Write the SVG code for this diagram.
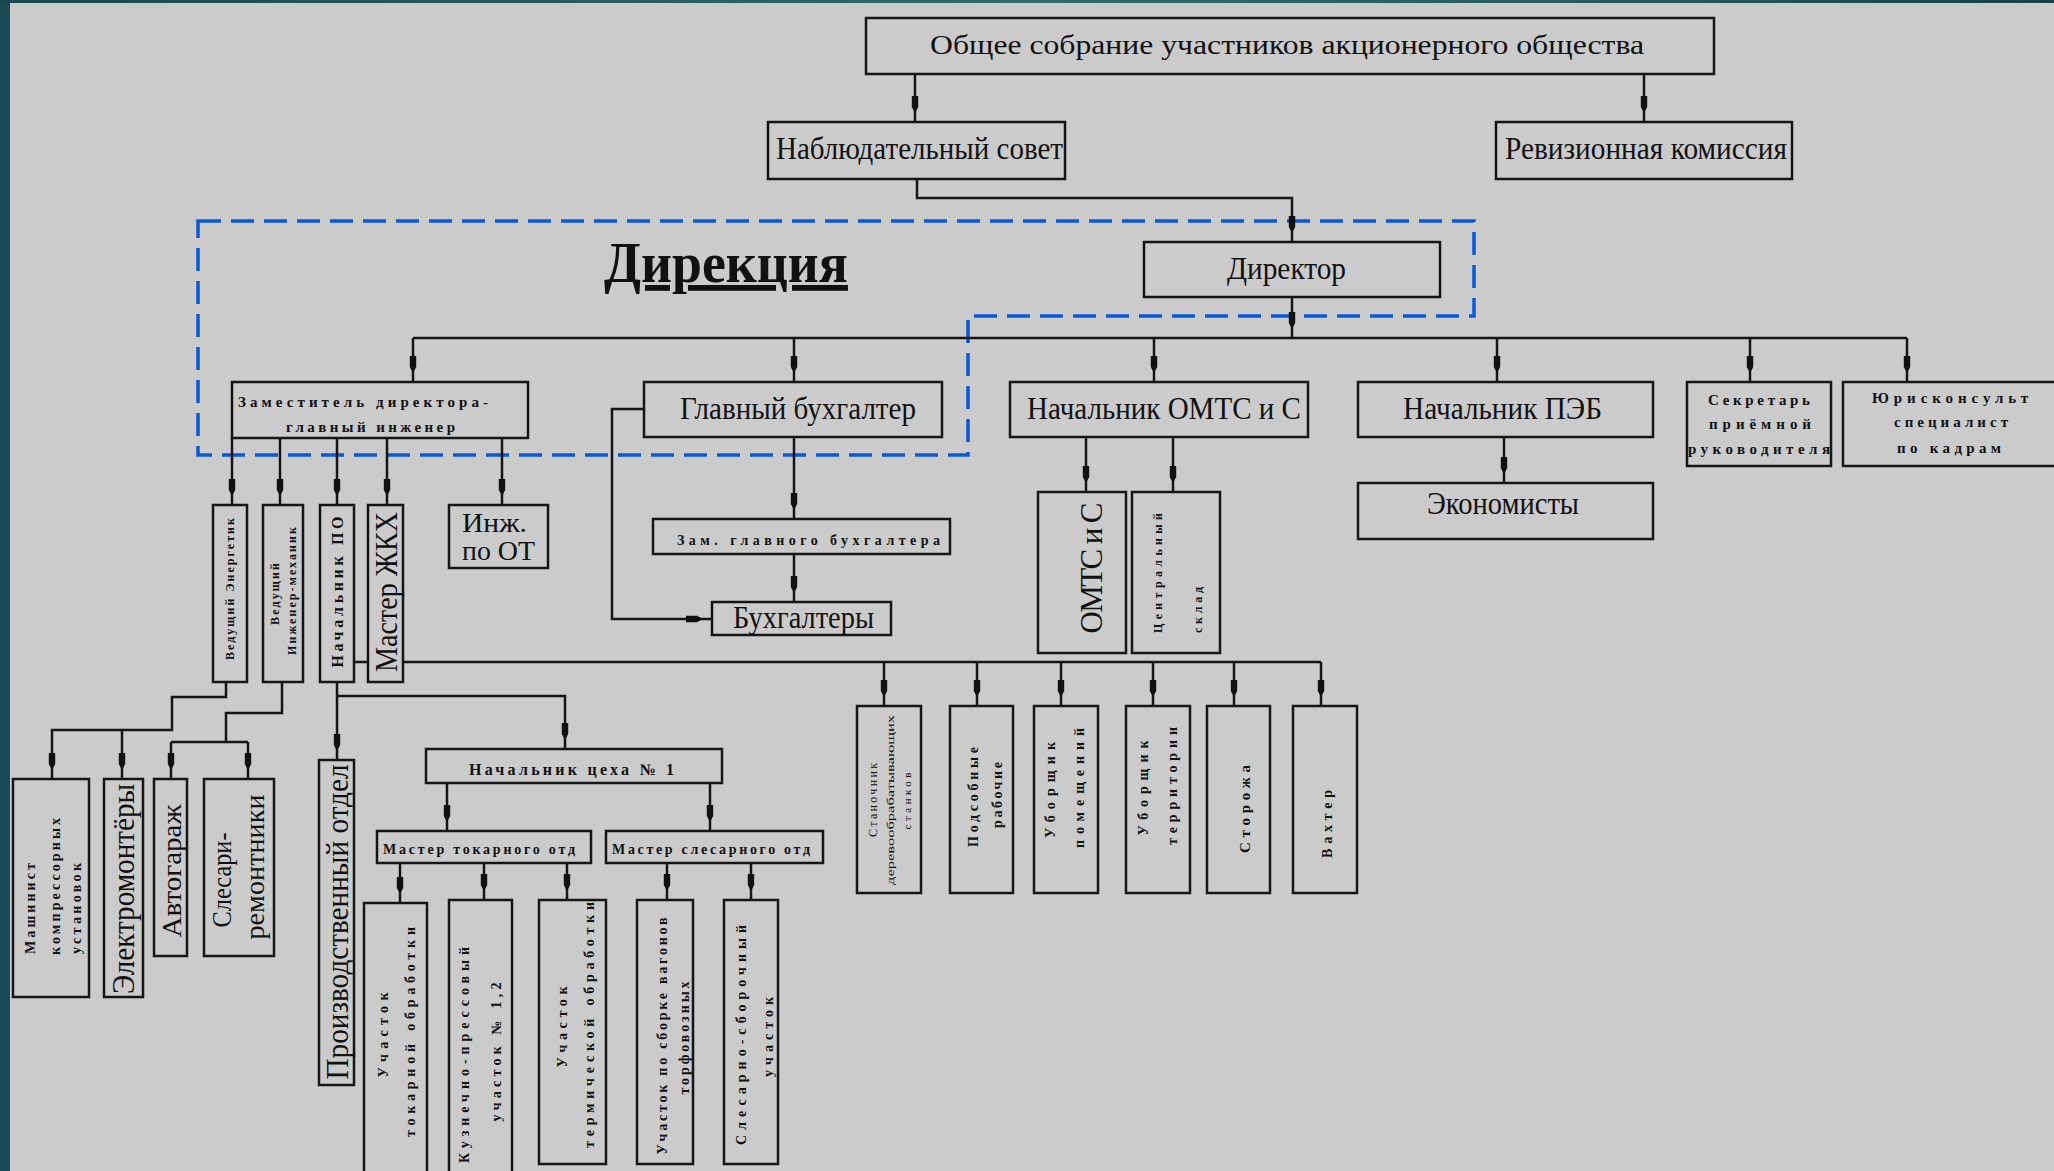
<svg xmlns="http://www.w3.org/2000/svg" width="2054" height="1171" viewBox="0 0 2054 1171">
<defs>
<linearGradient id="tg" x1="0" y1="0" x2="1" y2="0">
<stop offset="0" stop-color="#1a4652"/><stop offset="0.5" stop-color="#2e6d6a"/><stop offset="0.8" stop-color="#245a5e"/><stop offset="1" stop-color="#163f4a"/>
</linearGradient>
<marker id="a" markerUnits="userSpaceOnUse" viewBox="0 0 26 8" markerWidth="26" markerHeight="8" refX="26" refY="4" orient="auto">
<path d="M0,0.8 L11,0.8 L17,4 L11,7.2 L0,7.2 Z" fill="#111"/>
</marker>
<style>
rect.b{fill:#cbcbcb;stroke:#151515;stroke-width:2.5}
.c path{fill:none;stroke:#151515;stroke-width:2.5}
.c path.ar{marker-end:url(#a)}
text{font-family:"Liberation Serif","Times New Roman",serif;fill:#111}
.L{font-size:31px}
.S{font-size:14px;font-weight:bold}
.T{font-size:12px;font-weight:bold}
.V{font-size:31px}
</style>
</defs>
<rect x="0" y="0" width="2054" height="1171" fill="#cbcbcb"/>
<rect x="0" y="0" width="10" height="1171" fill="#1a4a55"/>
<rect x="0" y="0" width="2054" height="3" fill="url(#tg)"/>

<path d="M198,221 H1474 V316 H968 V455 H198 Z" fill="none" stroke="#0a5ad8" stroke-width="3.5" stroke-dasharray="23,10"/>

<g class="c" id="connectors">
<path class="ar" d="M915,74 V122"/>
<path class="ar" d="M1644,74 V122"/>
<path class="ar" d="M917,179 V198 H1292 V242"/>
<path class="ar" d="M1292,297 V338"/>
<path d="M413,338 H1907"/>
<path class="ar" d="M413,338 V382"/>
<path class="ar" d="M794,338 V382"/>
<path class="ar" d="M1154,338 V382"/>
<path class="ar" d="M1497,338 V382"/>
<path class="ar" d="M1750,338 V382"/>
<path class="ar" d="M1907,338 V382"/>
<path class="ar" d="M232,438 V505"/>
<path class="ar" d="M280,438 V505"/>
<path class="ar" d="M337,438 V505"/>
<path class="ar" d="M387,438 V505"/>
<path class="ar" d="M502,438 V505"/>
<path class="ar" d="M794,437 V519"/>
<path class="ar" d="M794,554 V602"/>
<path class="ar" d="M644,409 H612 V619 H712"/>
<path class="ar" d="M1086,437 V492"/>
<path class="ar" d="M1173,437 V492"/>
<path class="ar" d="M1504,437 V483"/>
<path d="M354,662 H1321"/>
<path class="ar" d="M884,662 V706"/>
<path class="ar" d="M977,662 V706"/>
<path class="ar" d="M1061,662 V706"/>
<path class="ar" d="M1153,662 V706"/>
<path class="ar" d="M1234,662 V706"/>
<path class="ar" d="M1321,662 V706"/>
<path class="ar" d="M226,682 V697 H172 V730 H52 V779"/>
<path class="ar" d="M122,730 V779"/>
<path d="M282,682 V713 H226 V742"/>
<path d="M171,742 H248"/>
<path class="ar" d="M171,742 V779"/>
<path class="ar" d="M248,742 V779"/>
<path class="ar" d="M337,682 V760"/>
<path class="ar" d="M337,696 H565 V749"/>
<path class="ar" d="M447,783 V831"/>
<path class="ar" d="M710,783 V831"/>
<path class="ar" d="M400,863 V903"/>
<path class="ar" d="M484,863 V900"/>
<path class="ar" d="M567,863 V900"/>
<path class="ar" d="M667,863 V900"/>
<path class="ar" d="M751,863 V900"/>
</g>

<g id="n_obshee"><rect class="b" x="866" y="18" width="848" height="56"/><text x="1287" y="54" text-anchor="middle" font-size="28" textLength="714" lengthAdjust="spacingAndGlyphs">Общее собрание участников акционерного общества</text></g>
<g id="n_nabl"><rect class="b" x="768" y="122" width="297" height="57"/><text class="L" x="776" y="159" textLength="287" lengthAdjust="spacingAndGlyphs">Наблюдательный совет</text></g>
<g id="n_rev"><rect class="b" x="1496" y="122" width="296" height="57"/><text class="L" x="1505" y="159" textLength="282" lengthAdjust="spacingAndGlyphs">Ревизионная комиссия</text></g>
<g id="n_direkciya"><text x="604" y="282" font-size="58" font-weight="bold" text-decoration="underline" textLength="244" lengthAdjust="spacingAndGlyphs">Дирекция</text></g>
<g id="n_dir"><rect class="b" x="1144" y="242" width="296" height="55"/><text class="L" x="1227" y="279" textLength="119" lengthAdjust="spacingAndGlyphs">Директор</text></g>
<g id="n_zam"><rect class="b" x="232" y="382" width="296" height="56"/><text x="238" y="407" font-size="15" font-weight="bold" textLength="250" lengthAdjust="spacing">Заместитель директора-</text><text x="286" y="432" font-size="15" font-weight="bold" textLength="169" lengthAdjust="spacing">главный инженер</text></g>
<g id="n_glbuh"><rect class="b" x="644" y="382" width="298" height="55"/><text class="L" x="680" y="419" textLength="236" lengthAdjust="spacingAndGlyphs">Главный бухгалтер</text></g>
<g id="n_zambuh"><rect class="b" x="653" y="519" width="297" height="35"/><text class="S" x="677" y="545" textLength="263" lengthAdjust="spacing">Зам. главного бухгалтера</text></g>
<g id="n_buh"><rect class="b" x="712" y="602" width="179" height="33"/><text class="L" x="733" y="628" textLength="141" lengthAdjust="spacingAndGlyphs">Бухгалтеры</text></g>
<g id="n_omts"><rect class="b" x="1010" y="382" width="298" height="55"/><text class="L" x="1027" y="419" textLength="274" lengthAdjust="spacingAndGlyphs">Начальник ОМТС и С</text></g>
<g id="n_peb"><rect class="b" x="1358" y="382" width="295" height="55"/><text class="L" x="1403" y="419" textLength="199" lengthAdjust="spacingAndGlyphs">Начальник ПЭБ</text></g>
<g id="n_econ"><rect class="b" x="1358" y="483" width="295" height="56"/><text class="L" x="1427" y="514" textLength="152" lengthAdjust="spacingAndGlyphs">Экономисты</text></g>
<g id="n_sekr"><rect class="b" x="1687" y="382" width="144" height="84"/><text x="1708" y="405" font-size="15" font-weight="bold" textLength="102" lengthAdjust="spacing">Секретарь</text><text x="1709" y="429" font-size="15" font-weight="bold" textLength="102" lengthAdjust="spacing">приёмной</text><text x="1688" y="454" font-size="15" font-weight="bold" textLength="142" lengthAdjust="spacing">руководителя</text></g>
<g id="n_yur"><rect class="b" x="1843" y="382" width="215" height="84"/><text x="1872" y="403" font-size="15" font-weight="bold" textLength="156" lengthAdjust="spacing">Юрисконсульт</text><text x="1894" y="427" font-size="15" font-weight="bold" textLength="114" lengthAdjust="spacing">специалист</text><text x="1897" y="453" font-size="15" font-weight="bold" textLength="104" lengthAdjust="spacing">по кадрам</text></g>
<g id="n_omtsS"><rect class="b" x="1038" y="492" width="88" height="161"/><text class="V" transform="translate(1091,568) rotate(-90)" text-anchor="middle" dominant-baseline="central" textLength="131" lengthAdjust="spacing">ОМТС и С</text></g>
<g id="n_sklad"><rect class="b" x="1132" y="492" width="88" height="161"/><text class="T" transform="translate(1158,633) rotate(-90)" dominant-baseline="central" textLength="120" lengthAdjust="spacing">Центральный</text><text class="T" transform="translate(1198,633) rotate(-90)" dominant-baseline="central" textLength="46" lengthAdjust="spacing">склад</text></g>
<g id="n_energ"><rect class="b" x="213" y="505" width="34" height="177"/><text class="T" transform="translate(230,589) rotate(-90)" text-anchor="middle" dominant-baseline="central" textLength="142" lengthAdjust="spacing">Ведущий Энергетик</text></g>
<g id="n_meh"><rect class="b" x="263" y="505" width="40" height="177"/><text class="T" transform="translate(275,594) rotate(-90)" text-anchor="middle" dominant-baseline="central" textLength="62" lengthAdjust="spacing">Ведущий</text><text class="T" transform="translate(292,591) rotate(-90)" text-anchor="middle" dominant-baseline="central" textLength="128" lengthAdjust="spacing">Инженер-механик</text></g>
<g id="n_po"><rect class="b" x="320" y="505" width="34" height="177"/><text transform="translate(337,592) rotate(-90)" text-anchor="middle" dominant-baseline="central" font-size="16" font-weight="bold" textLength="151" lengthAdjust="spacing">Начальник ПО</text></g>
<g id="n_zhkh"><rect class="b" x="368" y="505" width="35" height="177"/><text class="V" transform="translate(386,592) rotate(-90)" text-anchor="middle" dominant-baseline="central" textLength="160" lengthAdjust="spacingAndGlyphs">Мастер ЖКХ</text></g>
<g id="n_ot"><rect class="b" x="449" y="505" width="99" height="63"/><text x="462" y="532" font-size="28" textLength="65" lengthAdjust="spacingAndGlyphs">Инж.</text><text x="462" y="560" font-size="28" textLength="73" lengthAdjust="spacingAndGlyphs">по ОТ</text></g>
<g id="n_mash"><rect class="b" x="13" y="779" width="76" height="218"/><text class="S" transform="translate(30,954) rotate(-90)" dominant-baseline="central" font-size="13" textLength="91" lengthAdjust="spacing">Машинист</text><text class="S" transform="translate(55,955) rotate(-90)" dominant-baseline="central" font-size="13" textLength="137" lengthAdjust="spacing">компрессорных</text><text class="S" transform="translate(76,954) rotate(-90)" dominant-baseline="central" font-size="13" textLength="91" lengthAdjust="spacing">установок</text></g>
<g id="n_elek"><rect class="b" x="104" y="779" width="39" height="218"/><text class="V" transform="translate(123,889) rotate(-90)" text-anchor="middle" dominant-baseline="central" textLength="210" lengthAdjust="spacingAndGlyphs">Электромонтёры</text></g>
<g id="n_avto"><rect class="b" x="154" y="779" width="33" height="177"/><text transform="translate(171,871) rotate(-90)" text-anchor="middle" dominant-baseline="central" font-size="28" textLength="133" lengthAdjust="spacingAndGlyphs">Автогараж</text></g>
<g id="n_sles"><rect class="b" x="204" y="779" width="70" height="177"/><text transform="translate(222,880) rotate(-90)" text-anchor="middle" dominant-baseline="central" font-size="27" textLength="95" lengthAdjust="spacingAndGlyphs">Слесари-</text><text transform="translate(255,867) rotate(-90)" text-anchor="middle" dominant-baseline="central" font-size="27" textLength="145" lengthAdjust="spacingAndGlyphs">ремонтники</text></g>
<g id="n_proizv"><rect class="b" x="319" y="760" width="35" height="325"/><text class="V" transform="translate(337,922) rotate(-90)" text-anchor="middle" dominant-baseline="central" textLength="315" lengthAdjust="spacingAndGlyphs">Производственный отдел</text></g>
<g id="n_cex"><rect class="b" x="426" y="749" width="296" height="34"/><text x="469" y="775" font-size="16" font-weight="bold" textLength="205" lengthAdjust="spacing">Начальник цеха № 1</text></g>
<g id="n_mtok"><rect class="b" x="377" y="831" width="214" height="32"/><text class="S" x="383" y="854" textLength="192" lengthAdjust="spacing">Мастер токарного отд</text></g>
<g id="n_msles"><rect class="b" x="606" y="831" width="217" height="32"/><text class="S" x="612" y="854" textLength="198" lengthAdjust="spacing">Мастер слесарного отд</text></g>
<g id="n_utok"><rect class="b" x="364" y="903" width="63" height="280"/><text class="S" transform="translate(383,1035) rotate(-90)" text-anchor="middle" dominant-baseline="central" textLength="85" lengthAdjust="spacing">Участок</text><text class="S" transform="translate(410,1032) rotate(-90)" text-anchor="middle" dominant-baseline="central" textLength="210" lengthAdjust="spacing">токарной обработки</text></g>
<g id="n_kuz"><rect class="b" x="449" y="900" width="63" height="283"/><text class="S" transform="translate(464,1055) rotate(-90)" text-anchor="middle" dominant-baseline="central" textLength="216" lengthAdjust="spacing">Кузнечно-прессовый</text><text class="S" transform="translate(496,1052) rotate(-90)" text-anchor="middle" dominant-baseline="central" textLength="139" lengthAdjust="spacing">участок № 1,2</text></g>
<g id="n_term"><rect class="b" x="539" y="900" width="67" height="264"/><text class="S" transform="translate(562,1027) rotate(-90)" text-anchor="middle" dominant-baseline="central" textLength="81" lengthAdjust="spacing">Участок</text><text class="S" transform="translate(589,1025) rotate(-90)" text-anchor="middle" dominant-baseline="central" textLength="246" lengthAdjust="spacing">термической обработки</text></g>
<g id="n_sbor"><rect class="b" x="637" y="900" width="56" height="264"/><text class="S" transform="translate(662,1036) rotate(-90)" text-anchor="middle" dominant-baseline="central" textLength="237" lengthAdjust="spacing">Участок по сборке вагонов</text><text class="S" transform="translate(684,1038) rotate(-90)" text-anchor="middle" dominant-baseline="central" textLength="113" lengthAdjust="spacing">торфовозных</text></g>
<g id="n_slsb"><rect class="b" x="724" y="900" width="54" height="264"/><text class="S" transform="translate(741,1035) rotate(-90)" text-anchor="middle" dominant-baseline="central" textLength="220" lengthAdjust="spacing">Слесарно-сборочный</text><text class="S" transform="translate(768,1037) rotate(-90)" text-anchor="middle" dominant-baseline="central" textLength="80" lengthAdjust="spacing">участок</text></g>
<g id="n_stan"><rect class="b" x="857" y="706" width="64" height="187"/><text transform="translate(873,800) rotate(-90)" text-anchor="middle" dominant-baseline="central" font-size="12" textLength="74" lengthAdjust="spacing">Станочник</text><text transform="translate(890,800) rotate(-90)" text-anchor="middle" dominant-baseline="central" font-size="11" textLength="170" lengthAdjust="spacingAndGlyphs">деревообрабатывающих</text><text transform="translate(907,801) rotate(-90)" text-anchor="middle" dominant-baseline="central" font-size="11" textLength="57" lengthAdjust="spacing">станков</text></g>
<g id="n_pods"><rect class="b" x="950" y="706" width="63" height="187"/><text class="S" transform="translate(973,797) rotate(-90)" text-anchor="middle" dominant-baseline="central" textLength="100" lengthAdjust="spacing">Подсобные</text><text class="S" transform="translate(997,795) rotate(-90)" text-anchor="middle" dominant-baseline="central" textLength="66" lengthAdjust="spacing">рабочие</text></g>
<g id="n_ubp"><rect class="b" x="1034" y="706" width="64" height="187"/><text class="S" transform="translate(1050,790) rotate(-90)" text-anchor="middle" dominant-baseline="central" textLength="96" lengthAdjust="spacing">Уборщик</text><text class="S" transform="translate(1079,788) rotate(-90)" text-anchor="middle" dominant-baseline="central" textLength="120" lengthAdjust="spacing">помещений</text></g>
<g id="n_ubt"><rect class="b" x="1126" y="706" width="64" height="187"/><text class="S" transform="translate(1143,788) rotate(-90)" text-anchor="middle" dominant-baseline="central" textLength="95" lengthAdjust="spacing">Уборщик</text><text class="S" transform="translate(1172,786) rotate(-90)" text-anchor="middle" dominant-baseline="central" textLength="118" lengthAdjust="spacing">территории</text></g>
<g id="n_stor"><rect class="b" x="1207" y="706" width="63" height="187"/><text transform="translate(1245,809) rotate(-90)" text-anchor="middle" dominant-baseline="central" font-size="15" font-weight="bold" textLength="88" lengthAdjust="spacing">Сторожа</text></g>
<g id="n_vax"><rect class="b" x="1293" y="706" width="64" height="187"/><text class="S" transform="translate(1327,824) rotate(-90)" text-anchor="middle" dominant-baseline="central" textLength="68" lengthAdjust="spacing">Вахтер</text></g>
</svg>
